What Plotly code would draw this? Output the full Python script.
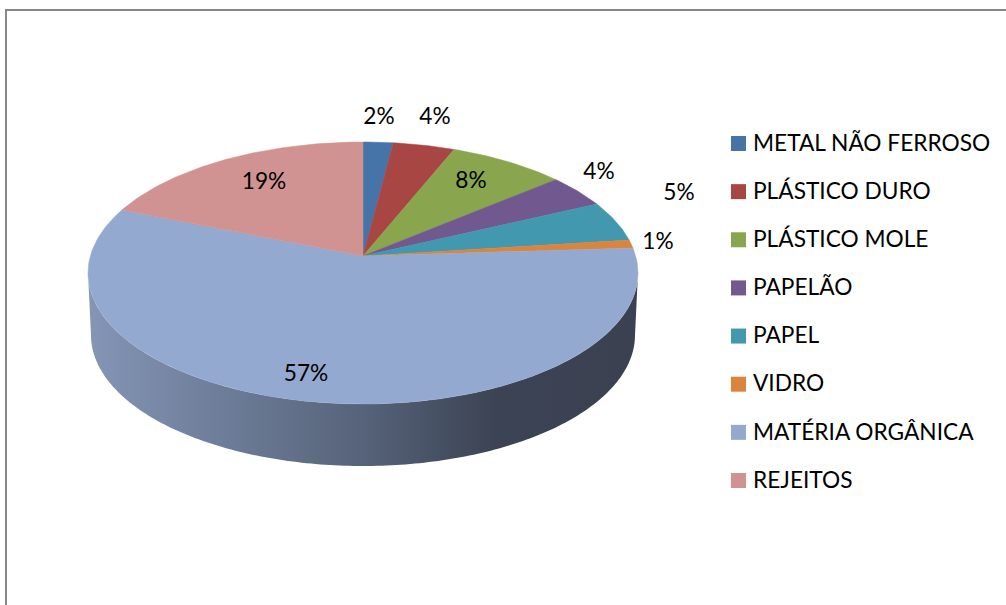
import numpy as np
import plotly.graph_objects as go

categories = ["METAL NÃO FERROSO", "PLÁSTICO DURO", "PLÁSTICO MOLE", "PAPELÃO",
              "PAPEL", "VIDRO", "MATÉRIA ORGÂNICA", "REJEITOS"]
values = [2.0, 4.1, 7.8, 4.1, 5.0, 1.0, 57.1, 18.9]
colors = ["#4674a8", "#a84644", "#89a54e", "#71588f", "#4198af", "#db843d", "#93a9cf", "#d19392"]

# Pie projection geometry, in screen pixels
XC, YC, RX, RY = 363.0, 273.0, 275.0, 131.0
TILT = 0.13           # projective shift of the pie's apex toward the back
DEPTH, RX_LOW = 62.0, 272.0
LABEL_XY = [(379, 118), (435, 118), (471, 182), (599, 173),
            (679, 194), (658, 243), (306, 375), (264, 183)]
FONT = "Lato"
FS = 22.7


def project(theta):
    u, v = np.sin(theta), np.cos(theta)
    k = 1 + TILT * v
    return (XC + RX * u * np.sqrt(1 - TILT ** 2) / k,
            YC - RY * (v + TILT) / k)


fig = go.Figure()

# Side wall
t = np.linspace(0, np.pi, 181)
wx = np.r_[XC + RX_LOW * np.cos(t), XC + RX * np.cos(t[::-1])]
wy = np.r_[YC + DEPTH + RY * np.sin(t), YC + RY * np.sin(t[::-1])]
fig.add_trace(go.Scatter(
    x=wx, y=wy, mode="none", fill="toself", showlegend=False, hoverinfo="skip",
    fillgradient=dict(type="horizontal", colorscale=[
        [0, "#8495b6"], [0.5, "#566379"], [0.74, "#3c4354"], [1, "#3b4151"]])))

# Top surface wedges
ax0, ay0 = XC, YC - RY * TILT
edges = np.cumsum([0] + values) / sum(values) * 2 * np.pi
for i, name in enumerate(categories):
    th = np.linspace(edges[i], edges[i + 1], max(3, int(values[i] * 4)))
    px, py = project(th)
    fig.add_trace(go.Scatter(
        x=np.r_[ax0, px, ax0], y=np.r_[ay0, py, ay0], mode="lines", fill="toself",
        line=dict(color=colors[i], width=0.5), fillcolor=colors[i], name=name,
        showlegend=False, hovertemplate=f"{name}: {values[i]:.0f}%<extra></extra>"))

# Data labels
fig.add_trace(go.Scatter(
    x=[p[0] for p in LABEL_XY], y=[p[1] for p in LABEL_XY], mode="text",
    text=[f"{v:.0f}%" for v in values], textposition="middle center",
    textfont=dict(family=FONT, size=FS, color="#000000"),
    showlegend=False, hoverinfo="skip"))

# Legend column
n = len(categories)
fig.add_trace(go.Scatter(
    x=[738.5] * n, y=[143.5 + 48.14 * i for i in range(n)], mode="markers",
    marker=dict(symbol="square", size=15, color=colors, line=dict(width=0)),
    showlegend=False, hoverinfo="skip"))
fig.add_trace(go.Scatter(
    x=[753] * n, y=[145 + 48.14 * i for i in range(n)], mode="text", text=categories,
    textposition="middle right",
    textfont=dict(family=FONT, size=FS, color="#000000"),
    showlegend=False, hoverinfo="skip"))

fig.add_shape(type="rect", xref="x", yref="y", x0=6, y0=10, x1=1012, y1=620,
              line=dict(color="#868686", width=2), fillcolor="rgba(0,0,0,0)", layer="below")

fig.update_layout(
    width=1006, height=605, autosize=False,
    margin=dict(l=0, r=0, t=0, b=0),
    paper_bgcolor="#ffffff", plot_bgcolor="#ffffff",
    showlegend=False,
    xaxis=dict(range=[0, 1006], visible=False, fixedrange=True),
    yaxis=dict(range=[605, 0], visible=False, fixedrange=True),
)
fig.write_html("out.html", config={"displayModeBar": False},
               post_script="document.body.style.margin='0';document.body.style.overflow='hidden';")
